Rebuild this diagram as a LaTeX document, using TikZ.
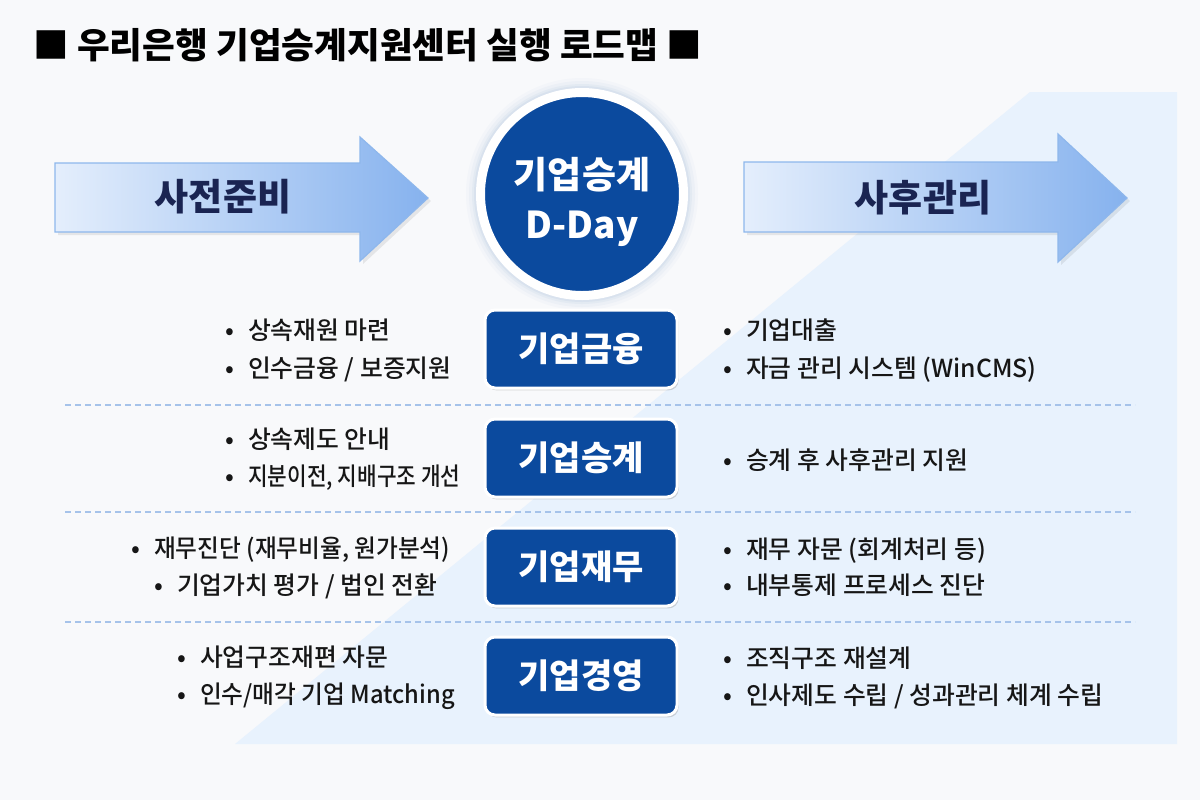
\documentclass[tikz,border=0pt]{standalone}
\usepackage{fontspec}
\setmainfont{Noto Sans CJK KR}
\newfontfamily\krmed{Noto Sans CJK KR Medium}
\newfontfamily\krcond{Noto Sans CJK KR Medium}[FakeStretch=0.86]
\newfontfamily\krnarrow{Noto Sans CJK KR Medium}[FakeStretch=0.955]
\usetikzlibrary{shadows}
\definecolor{pagebg}{HTML}{F8F9FB}
\definecolor{paneblue}{HTML}{E8F2FD}
\definecolor{arrowL}{HTML}{E4EEFC}
\definecolor{arrowR}{HTML}{86B2EE}
\definecolor{arrowline}{HTML}{8EB7EC}
\definecolor{navy}{HTML}{1A2452}
\definecolor{deepblue}{HTML}{0B4A9E}
\definecolor{dashblue}{HTML}{A6C3EA}
\definecolor{ink}{HTML}{161616}
\newcommand\bulmark{\makebox[0.8em][c]{•}\hspace{0.32em}}
\tikzset{
  stepbox/.style={rectangle, rounded corners=5pt, fill=deepblue, draw=white,
    line width=1.5pt, minimum width=96pt, minimum height=39pt, inner sep=0pt,
    text=white, font=\bfseries\fontsize{17}{17}\selectfont,
    drop shadow={opacity=0.3, shadow xshift=0.8pt, shadow yshift=-1.2pt}},
  bt/.style={anchor=base west, inner sep=0pt, text=ink,
    font=\krmed\fontsize{12.4}{14}\selectfont, yshift=-4.4pt},
  phase/.style={font=\bfseries\fontsize{18.5}{20}\selectfont, text=navy},
  arrowshape/.style={left color=arrowL, right color=arrowR, draw=arrowline, line width=0.6pt},
  sepline/.style={draw=dashblue, dash pattern=on 3pt off 2pt, line width=0.6pt}
}
\begin{document}
\begin{tikzpicture}[x=0.5pt,y=-0.5pt]
\useasboundingbox (0,0) rectangle (1200,800);
\fill[pagebg] (0,0) rectangle (1200,800);
% light pane
\fill[paneblue] (1030,92) -- (1177,92) -- (1177,744) -- (235,744) -- cycle;

% title
\node[anchor=west, inner sep=0pt, font=\bfseries\fontsize{17.8}{20}\selectfont, text=black] (title) at (33,45) {■ 우리은행 기업승계지원센터 실행 로드맵 ■};

% arrows
\fill[black, opacity=0.08] (58,166) -- (363,166) -- (363,140) -- (431,201) -- (363,264) -- (363,235) -- (58,235) -- cycle;
\shadedraw[arrowshape] (55,163) -- (360,163) -- (360,137) -- (428,198) -- (360,261) -- (360,232) -- (55,232) -- cycle;
\fill[black, opacity=0.08] (747,165) -- (1061,165) -- (1061,137) -- (1130,201) -- (1061,265) -- (1061,235) -- (747,235) -- cycle;
\shadedraw[arrowshape] (744,162) -- (1058,162) -- (1058,134) -- (1127,198) -- (1058,262) -- (1058,232) -- (744,232) -- cycle;
\node[phase] (pre) at (223,197) {사전준비};
\node[phase] (post) at (923,198) {사후관리};

% D-Day circle
\foreach \r/\o in {116/0.04,113/0.06,110/0.08,108/0.1}
  \fill[deepblue!50, opacity=\o] (582,194) circle[radius=\r];
\node[circle, fill=deepblue, draw=white, line width=4.5pt, minimum size=101.5pt, inner sep=0pt] (dday) at (582,194) {};
\node[align=center, text=white, inner sep=0pt, font=\bfseries\fontsize{18.5}{25}\selectfont] (ddaytxt) at (582,202) {기업승계\\D-Day};

% boxes
\node[stepbox] (bx1) at (581,349) {기업금융};
\node[stepbox] (bx2) at (581,458) {기업승계};
\node[stepbox] (bx3) at (581,567) {기업재무};
\node[stepbox] (bx4) at (581,676) {기업경영};

% separators
\coordinate (d1a) at (65,405); \coordinate (d1b) at (1135,405);
\coordinate (d2a) at (65,512); \coordinate (d2b) at (1135,512);
\coordinate (d3a) at (65,622); \coordinate (d3b) at (1135,622);
\draw[sepline] (d1a) -- (d1b);
\draw[sepline] (d2a) -- (d2b);
\draw[sepline] (d3a) -- (d3b);

% left texts
\node[bt] (l1a) at (220,331) {\bulmark 상속재원 마련};
\node[bt] (l1b) at (220,369) {\bulmark 인수금융 / 보증지원};
\node[bt] (l2a) at (220,440) {\bulmark 상속제도 안내};
\node[bt] (l2b) at (220,477) {\bulmark {\krcond 지분이전, 지배구조 개선}};
\node[bt] (l3a) at (126,549) {\bulmark {\krnarrow 재무진단 (재무비율, 원가분석)}};
\node[bt] (l3b) at (149,586) {\bulmark 기업가치 평가 / 법인 전환};
\node[bt] (l4a) at (172,658) {\bulmark 사업구조재편 자문};
\node[bt] (l4b) at (172,695) {\bulmark {\krnarrow 인수/매각 기업 Matching}};

% right texts
\node[bt] (r1a) at (718,331) {\bulmark 기업대출};
\node[bt] (r1b) at (718,369) {\bulmark 자금 관리 시스템 (WinCMS)};
\node[bt] (r2) at (718,461) {\bulmark 승계 후 사후관리 지원};
\node[bt] (r3a) at (718,550) {\bulmark 재무 자문 (회계처리 등)};
\node[bt] (r3b) at (718,586) {\bulmark 내부통제 프로세스 진단};
\node[bt] (r4a) at (718,659) {\bulmark 조직구조 재설계};
\node[bt] (r4b) at (718,696) {\bulmark 인사제도 수립 / 성과관리 체계 수립};
\end{tikzpicture}
\end{document}
